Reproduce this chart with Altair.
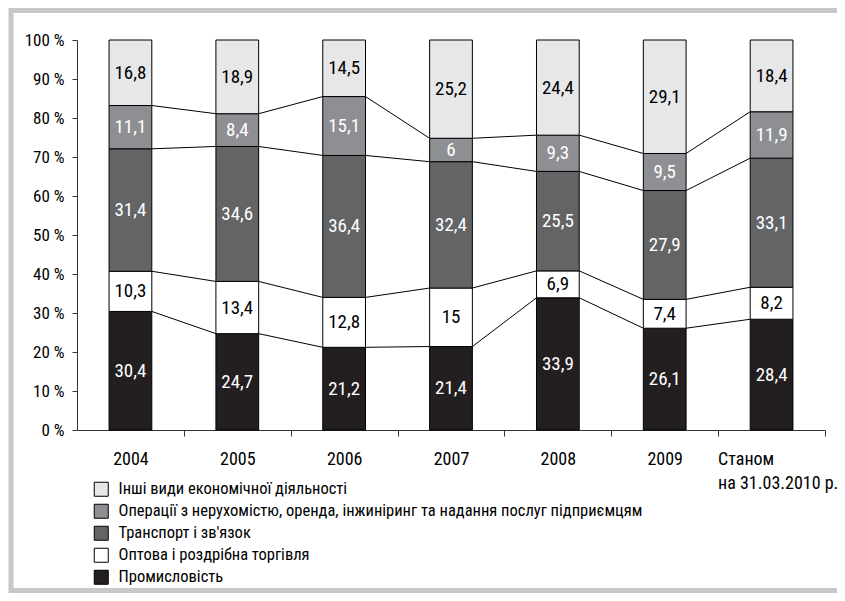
import json
import altair as alt
import pandas as pd

# ---- data ----
categories = ["2004", "2005", "2006", "2007", "2008", "2009", "Станом\nна 31.03.2010 р."]

# series, bottom to top
series_names = [
    "Промисловість",
    "Оптова і роздрібна торгівля",
    "Транспорт і зв'язок",
    "Операції з нерухомістю, оренда, інжиніринг та надання послуг підприємцям",
    "Інші види економічної діяльності",
]
industry = [30.4, 24.7, 21.2, 21.4, 33.9, 26.1, 28.4]
trade = [10.3, 13.4, 12.8, 15, 6.9, 7.4, 8.2]
transport = [31.4, 34.6, 36.4, 32.4, 25.5, 27.9, 33.1]
realestate = [11.1, 8.4, 15.1, 6, 9.3, 9.5, 11.9]
other = [16.8, 18.9, 14.5, 25.2, 24.4, 29.1, 18.4]

series_values = [industry, trade, transport, realestate, other]
series_colors = ["#231f20", "#ffffff", "#636466", "#8e8f92", "#e6e7e8"]
label_colors = ["white", "black", "white", "white", "black"]

HALF = 0.2  # half bar width in category units

# ---- build tables ----
rows = []
cum = [[0.0] * len(categories)]
for s, (name, vals) in enumerate(zip(series_names, series_values)):
    prev = cum[-1]
    nxt = [p + v for p, v in zip(prev, vals)]
    for i, v in enumerate(vals):
        rows.append({
            "idx": i, "x0": i - HALF, "x1": i + HALF,
            "series": name, "value": v,
            "y0": prev[i], "y1": nxt[i], "ym": (prev[i] + nxt[i]) / 2,
            "lab": f"{v:g}".replace(".", ","),
            "lc": label_colors[s],
        })
    cum.append(nxt)
df = pd.DataFrame(rows)

lines = []
for k in range(1, len(series_names)):
    for i in range(len(categories) - 1):
        lines.append({"xa": i + HALF, "xb": i + 1 - HALF,
                      "ya": cum[k][i], "yb": cum[k][i + 1]})
dl = pd.DataFrame(lines)

FONT = "Roboto Condensed, Liberation Sans Narrow, DejaVu Sans Condensed, Arial Narrow, sans-serif"

legend_order = list(reversed(series_names))
color_scale = alt.Scale(domain=legend_order,
                        range=list(reversed(series_colors)))

cat_lines = json.dumps([c.split("\n") for c in categories], ensure_ascii=False)
last = len(categories) - 1

x_scale = alt.Scale(domain=[-0.5, len(categories) - 0.5], nice=False, zero=False)
y_scale = alt.Scale(domain=[0, 100], nice=False)

x_axis = alt.Axis(
    values=[i * 0.5 for i in range(0, 2 * len(categories))],
    labelExpr=f"datum.value % 1 != 0 ? '' : {cat_lines}[datum.value]",
    tickOpacity={"condition": {"test": "datum.value % 1 == 0", "value": 0}, "value": 1},
    labelAlign={"condition": {"test": f"datum.value == {last}", "value": "left"}, "value": "center"},
    labelOffset={"condition": {"test": f"datum.value == {last}", "value": -54}, "value": 0},
    tickSize=6, labelPadding=14, labelBaseline="top",
    labelFontSize=18, labelColor="black", labelFont=FONT, labelLineHeight=24,
    domainColor="#333333", tickColor="#333333", grid=False, title=None,
    labelOverlap=False, labelBound=False, labelFlush=False,
)
y_axis = alt.Axis(
    values=list(range(0, 101, 10)),
    tickCount=11,
    labelExpr="datum.value + ' %'",
    tickSize=5, labelPadding=8, labelFontSize=17, labelColor="black", labelFont=FONT,
    labelOverlap=False, labelFlush=False, labelBound=False,
    domainColor="#333333", tickColor="#333333", grid=False, title=None,
)


def xq(field):
    return alt.X(field, type="quantitative", scale=x_scale, axis=x_axis)


def yq(field):
    return alt.Y(field, type="quantitative", scale=y_scale, axis=y_axis)


bars = alt.Chart(df).mark_bar(stroke="black", strokeWidth=1).encode(
    x=xq("x0"),
    x2="x1:Q",
    y=yq("y0"),
    y2="y1:Q",
    color=alt.Color("series:N", scale=color_scale, sort=legend_order,
                    legend=alt.Legend(
                        title=None, orient="none", legendX=16, legendY=441,
                        symbolType="square", symbolSize=196,
                        symbolStrokeColor="black", symbolStrokeWidth=1,
                        symbolOpacity=1, labelFontSize=16.5, labelFont=FONT,
                        labelColor="black", rowPadding=3, labelOffset=9,
                        padding=0, labelLimit=700,
                    )),
)

texts = alt.Chart(df).mark_text(fontSize=19, font=FONT, baseline="middle").encode(
    x=xq("idx"),
    y=yq("ym"),
    text="lab:N",
    color=alt.Color("lc:N", scale=None),
)

connectors = alt.Chart(dl).mark_rule(color="black", strokeWidth=1).encode(
    x=xq("xa"),
    x2="xb:Q",
    y=yq("ya"),
    y2="yb:Q",
)

frame = alt.Chart(alt.Data(values=[{}])).mark_rect(
    fillOpacity=0, stroke="#c8c8c9", strokeWidth=5
).encode(
    x=alt.value(-66), x2=alt.value(790), y=alt.value(-29.5), y2=alt.value(550.5)
)

chart = alt.layer(frame, connectors, bars, texts).properties(
    width=748, height=390,
    autosize=alt.AutoSizeParams(type="none"),
    padding={"left": 69, "top": 32, "right": 12, "bottom": 163},
    background="white",
).configure_view(stroke=None)

chart.save("out.html", embed_options={"renderer": "svg", "actions": False})
